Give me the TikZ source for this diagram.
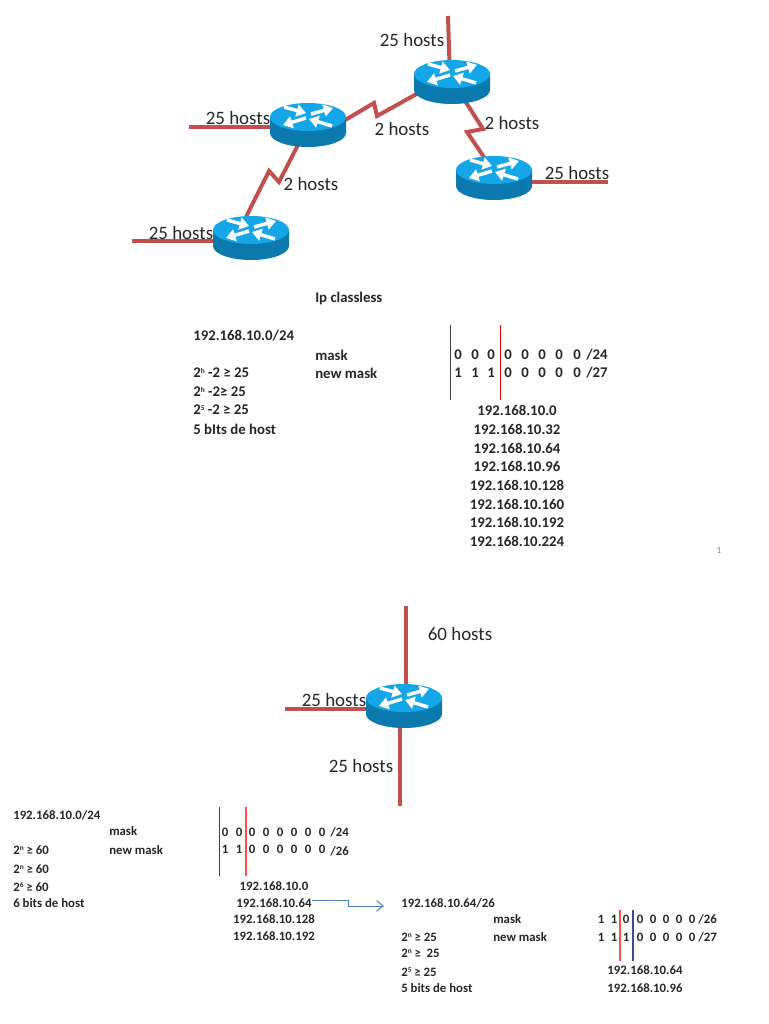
\documentclass[tikz,border=0pt]{standalone}
\usepackage{fontspec}
\setmainfont{Carlito}
\usetikzlibrary{arrows.meta}
\definecolor{linkred}{HTML}{C0504D}
\definecolor{rtop}{HTML}{14A6E6}
\definecolor{rbody}{HTML}{0B78AE}
\definecolor{arrowblue}{HTML}{4F81BD}
\definecolor{barblue}{HTML}{3A4F8F}
\newcommand{\expo}[1]{\raisebox{0.55ex}{\fontsize{5.5}{6}\selectfont #1}}
\tikzset{
  x=0.75pt,y=-0.75pt,
  link/.style={draw=linkred,line width=3pt,line join=miter},
  hostlabel/.style={font=\fontsize{14.2}{16}\selectfont,text=black!85,inner sep=0pt,anchor=center},
  big/.style={font=\fontsize{11.1}{13}\bfseries\selectfont,text=black!85,inner sep=0pt},
  small/.style={font=\fontsize{9.6}{11}\bfseries\selectfont,text=black!85,inner sep=0pt},
  anchorpt/.style={inner sep=0pt,minimum size=0pt,outer sep=0pt},
  rarrow/.style={white,line width=2.6pt,-{Triangle[length=7pt,width=9pt]}},
  pics/router/.style={code={
    \fill[rbody] (-38,0) -- (-38,16) arc[start angle=180,end angle=0,x radius=38,y radius=14] -- (38,0) -- cycle;
    \fill[rtop] (0,0) ellipse[x radius=38,y radius=14];
    \draw[rarrow] (-24,-10) -- (-2,-4);
    \draw[rarrow] (3,-3) -- (25,-9);
    \draw[rarrow] (-2,1) -- (-25,8);
    \draw[rarrow] (24,9) -- (1,2);
  }}
}
\begin{document}
\begin{tikzpicture}
\useasboundingbox (0,0) rectangle (768,1024);
% router anchors
\node[anchorpt] (r1) at (308,127) {};
\node[anchorpt] (r2) at (450,80) {};
\node[anchorpt] (r3) at (494,182) {};
\node[anchorpt] (r4) at (251,241) {};
\node[anchorpt] (r5) at (404,709) {};
\coordinate (e1) at (189,127);
\coordinate (e2) at (448,16);
\coordinate (e3) at (608,182);
\coordinate (e4) at (132,241);
\coordinate (e5a) at (406,606);
\coordinate (e5b) at (285,709);
\coordinate (e5c) at (400,806);
% links
\draw[link] (e1) -- (r1.center);
\draw[link] (e2) -- (r2.center);
\draw[link] (e3) -- (r3.center);
\draw[link] (e4) -- (r4.center);
\draw[link] (e5a) -- (r5.center -| e5a);
\draw[link] (e5b) -- (r5.center);
\draw[link] (e5c) -- (r5.center -| e5c);
\coordinate (z1s) at (340,123); \coordinate (z1a) at (374,103); \coordinate (z1b) at (377,116); \coordinate (z1e) at (422,91);
\draw[link] (z1s) -- (z1a) -- (z1b) -- (z1e);
\coordinate (z2s) at (460,93); \coordinate (z2a) at (483,129); \coordinate (z2b) at (467,132); \coordinate (z2e) at (490,166);
\draw[link] (z2s) -- (z2a) -- (z2b) -- (z2e);
\coordinate (z3s) at (300,141); \coordinate (z3a) at (279,182); \coordinate (z3b) at (269,171); \coordinate (z3e) at (241,227);
\draw[link] (z3s) -- (z3a) -- (z3b) -- (z3e);
% routers
\pic at (308,117) {router};
\pic at (452,74) {router};
\pic at (494,170) {router};
\pic at (251,230) {router};
\pic at (404,698) {router};
% host labels
\node[hostlabel] (h1) at (412,40) {25 hosts};
\node[hostlabel] (h2) at (238,118) {25 hosts};
\node[hostlabel] (h3) at (402,129) {2 hosts};
\node[hostlabel] (h4) at (512,123) {2 hosts};
\node[hostlabel] (h5) at (577,173) {25 hosts};
\node[hostlabel] (h6) at (311,184) {2 hosts};
\node[hostlabel] (h7) at (181,233) {25 hosts};
\node[hostlabel] (h8) at (460,634) {60 hosts};
\node[hostlabel] (h9) at (334,700) {25 hosts};
\node[hostlabel] (h10) at (361,766) {25 hosts};
% upper text
\node[big,anchor=west] (t0) at (315,298) {Ip classless};
\node[big,anchor=west] (t1) at (193,336) {192.168.10.0/24};
\node[big,anchor=west] (t2) at (315,355) {mask};
\node[big,anchor=west] (t3) at (315,373) {new mask};
\node[big,anchor=west] (t4) at (193,373) {2\expo{h} -2 ≥ 25};
\node[big,anchor=west] (t5) at (193,392) {2\expo{h} -2≥ 25};
\node[big,anchor=west] (t6) at (193,410) {2\expo{5} -2 ≥ 25};
\node[big,anchor=west] (t7) at (193,429) {5 bIts de host};
\coordinate (b1t) at (450,325); \coordinate (b1b) at (450,400);
\coordinate (b2t) at (500,325); \coordinate (b2b) at (500,400);
\draw[black!75,line width=0.7pt] (b1t) -- (b1b);
\draw[red!90!black,line width=0.7pt] (b2t) -- (b2b);
\foreach \x/\a/\b [count=\i] in {458/0/1,475/0/1,491/0/1,508/0/0,525/0/0,542/0/0,559/0/0,577/0/0}{
  \node[big] (ua\i) at (\x,355) {\a};
  \node[big] (ub\i) at (\x,373) {\b};
}
\node[big,anchor=west] (u24) at (586,355) {/24};
\node[big,anchor=west] (u27) at (586,373) {/27};
\foreach \y/\s [count=\i] in {410/192.168.10.0,429/192.168.10.32,448/192.168.10.64,466/192.168.10.96,485/192.168.10.128,504/192.168.10.160,522/192.168.10.192,541/192.168.10.224}{
  \node[big] (ip\i) at (517,\y) {\s};
}
\node[font=\fontsize{7}{8}\selectfont,text=black!50,inner sep=0pt] (pg) at (719,550) {1};
% lower left text
\node[small,anchor=west] (l1) at (13,815) {192.168.10.0/24};
\node[small,anchor=west] (l2) at (109,831) {mask};
\node[small,anchor=west] (l3) at (109,850) {new mask};
\node[small,anchor=west] (l4) at (13,850) {2\expo{n} ≥ 60};
\node[small,anchor=west] (l5) at (13,869) {2\expo{n} ≥ 60};
\node[small,anchor=west] (l6) at (13,887) {2\expo{6} ≥ 60};
\node[small,anchor=west] (l7) at (13,903) {6 bits de host};
\coordinate (b3t) at (219,807); \coordinate (b3b) at (219,876);
\coordinate (b4t) at (246,807); \coordinate (b4b) at (246,876);
\draw[black!75,line width=0.7pt] (b3t) -- (b3b);
\draw[red!70,line width=0.8pt] (b4t) -- (b4b);
\foreach \x/\a/\b [count=\i] in {225/0/1,239/0/1,252/0/0,266/0/0,280/0/0,294/0/0,308/0/0,322/0/0}{
  \node[small] (va\i) at (\x,832) {\a};
  \node[small] (vb\i) at (\x,849) {\b};
}
\node[small,anchor=west] (v24) at (330,832) {/24};
\node[small,anchor=west] (v26) at (330,851) {/26};
\foreach \y/\s [count=\i] in {886/192.168.10.0,903/192.168.10.64,919/192.168.10.128,936/192.168.10.192}{
  \node[small] (lp\i) at (274,\y) {\s};
}
% arrow
\coordinate (ah) at (384,906);
\coordinate (am1) at (348,900);
\coordinate (am2) at (348,906);
\draw[arrowblue,line width=0.75pt,-{Straight Barb[length=5pt,width=8pt]}] (lp2.east |- am1) -- (am1) -- (am2) -- (ah);
% lower right text
\node[small,anchor=west] (m1) at (401,903) {192.168.10.64/26};
\node[small,anchor=west] (m2) at (493,919) {mask};
\node[small,anchor=west] (m3) at (493,937) {new mask};
\node[small,anchor=west] (m4) at (401,937) {2\expo{n} ≥ 25};
\node[small,anchor=west] (m5) at (401,953) {2\expo{n} ≥ ~25};
\node[small,anchor=west] (m6) at (401,972) {2\expo{5} ≥ 25};
\node[small,anchor=west] (m7) at (401,988) {5 bits de host};
\coordinate (b5t) at (620,910); \coordinate (b5b) at (620,961);
\coordinate (b6t) at (633,910); \coordinate (b6b) at (633,961);
\draw[red!70,line width=0.8pt] (b5t) -- (b5b);
\draw[barblue,line width=0.8pt] (b6t) -- (b6b);
\foreach \x/\a/\b [count=\i] in {601/1/1,614/1/1,626/0/1,640/0/0,653/0/0,666/0/0,679/0/0,692/0/0}{
  \node[small] (wa\i) at (\x,919) {\a};
  \node[small] (wb\i) at (\x,937) {\b};
}
\node[small,anchor=west] (w26) at (698,919) {/26};
\node[small,anchor=west] (w27) at (698,937) {/27};
\node[small] (rp1) at (645,970) {192.168.10.64};
\node[small] (rp2) at (645,988) {192.168.10.96};
\end{tikzpicture}
\end{document}
